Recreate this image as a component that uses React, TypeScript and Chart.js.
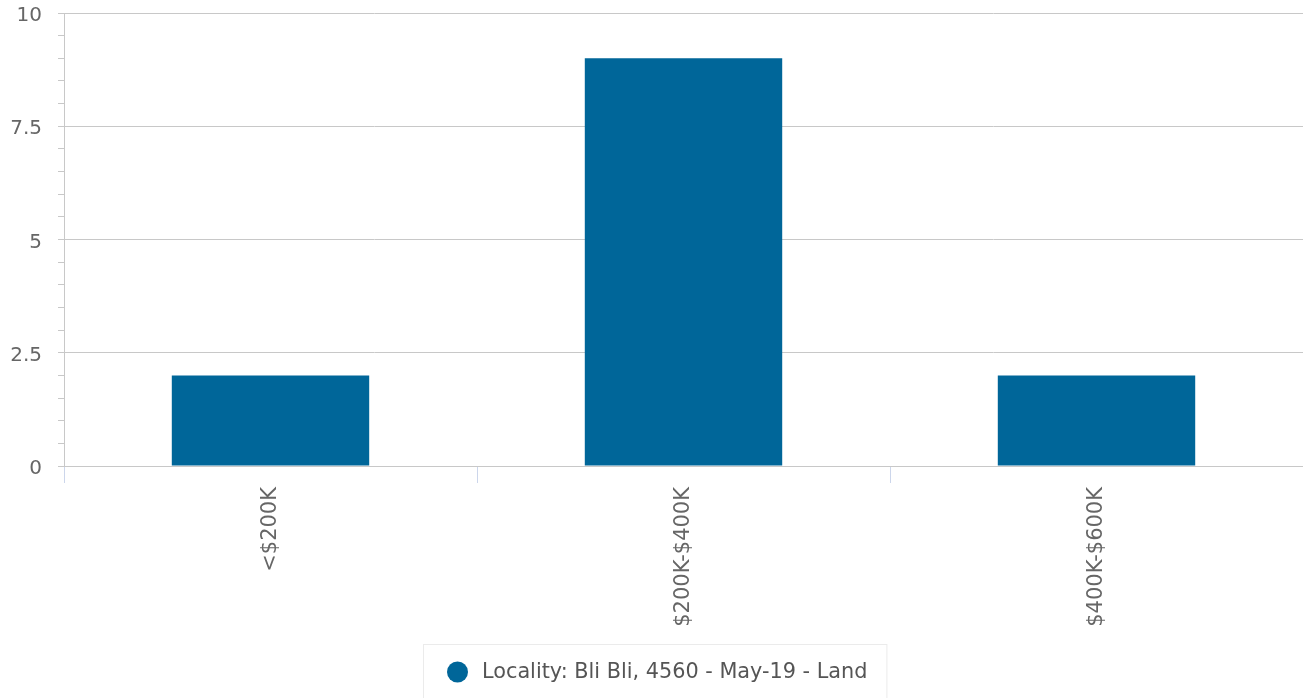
import React, { useEffect, useRef } from "react";
import { Chart, registerables } from "chart.js";

Chart.register(...registerables);

const categories = ["<$200K", "$200K-$400K", "$400K-$600K"];
const seriesName = "Locality: Bli Bli, 4560 - May-19 - Land";
const seriesValues = [2, 9, 2];
const yMin = 0;
const yMax = 10;
const yMinorStep = 0.5;
const yMajorStep = 2.5;

const FONT = "'DejaVu Sans', sans-serif";
const BAR_COLOR = "#006699";
const GRID = "#c8c8c8";

const boxLegend = {
  id: "boxLegend",
  afterDraw(chart: any) {
    const ctx = chart.ctx;
    const ds = chart.data.datasets[0];
    ctx.save();
    ctx.font = `20.8px ${FONT}`;
    const tw = ctx.measureText(ds.label).width;
    const left = 423;
    const top = 644;
    const r = 10.5;
    const w = 24 + 2 * r + 14 + tw + 19;
    ctx.strokeStyle = "#ebebeb";
    ctx.lineWidth = 1;
    ctx.strokeRect(left + 0.5, top + 0.5, w, 120);
    ctx.fillStyle = ds.backgroundColor;
    ctx.beginPath();
    ctx.arc(left + 24 + r, top + 28, r, 0, Math.PI * 2);
    ctx.fill();
    ctx.fillStyle = "#555555";
    ctx.textBaseline = "middle";
    ctx.textAlign = "left";
    ctx.fillText(ds.label, left + 24 + 2 * r + 14, top + 29);
    ctx.restore();
  },
};

export default function App() {
  const canvasRef = useRef<HTMLCanvasElement>(null);

  useEffect(() => {
    if (!canvasRef.current) return;
    const chart = new Chart(canvasRef.current, {
      type: "bar",
      data: {
        labels: categories,
        datasets: [
          {
            label: seriesName,
            data: seriesValues,
            backgroundColor: BAR_COLOR,
            borderWidth: 0,
            barPercentage: 0.478,
            categoryPercentage: 1,
          },
        ],
      },
      options: {
        animation: false,
        responsive: true,
        maintainAspectRatio: false,
        layout: { padding: { top: 13, bottom: 58, left: 0, right: 0 } },
        plugins: {
          legend: { display: false },
          tooltip: { enabled: false },
          title: { display: false },
        },
        scales: {
          x: {
            grid: {
              display: true,
              drawOnChartArea: false,
              drawTicks: true,
              tickLength: 17,
              tickColor: "#ccd6eb",
              offset: true,
            },
            border: { display: true, color: GRID },
            ticks: {
              maxRotation: 90,
              minRotation: 90,
              padding: 4,
              color: "#666666",
              font: { family: FONT, size: 21 },
              autoSkip: false,
            },
            afterFit(scale: any) {
              scale.height = 174;
              scale.paddingLeft = 0;
              scale.paddingRight = 0;
            },
          },
          y: {
            min: yMin,
            max: yMax,
            grid: {
              color: (c: any) =>
                c.tick && Math.abs(c.tick.value % yMajorStep) < 1e-9
                  ? GRID
                  : "rgba(0,0,0,0)",
              tickColor: GRID,
              tickLength: 6,
              drawTicks: true,
            },
            border: { display: true, color: GRID },
            ticks: {
              stepSize: yMinorStep,
              autoSkip: false,
              padding: 16,
              labelOffset: 3,
              color: "#666666",
              font: { family: FONT, size: 20 },
              callback: (v: any) =>
                Math.abs(Number(v) % yMajorStep) < 1e-9 ? String(v) : "",
            },
            afterFit(scale: any) {
              scale.width = 64;
              scale.paddingTop = 0;
              scale.paddingBottom = 0;
            },
          },
        },
      },
      plugins: [boxLegend],
    });
    return () => chart.destroy();
  }, []);

  return (
    <div
      style={{
        position: "fixed",
        left: 0,
        top: 0,
        width: 1303,
        height: 698,
        background: "#ffffff",
      }}
    >
      <canvas ref={canvasRef} />
    </div>
  );
}
